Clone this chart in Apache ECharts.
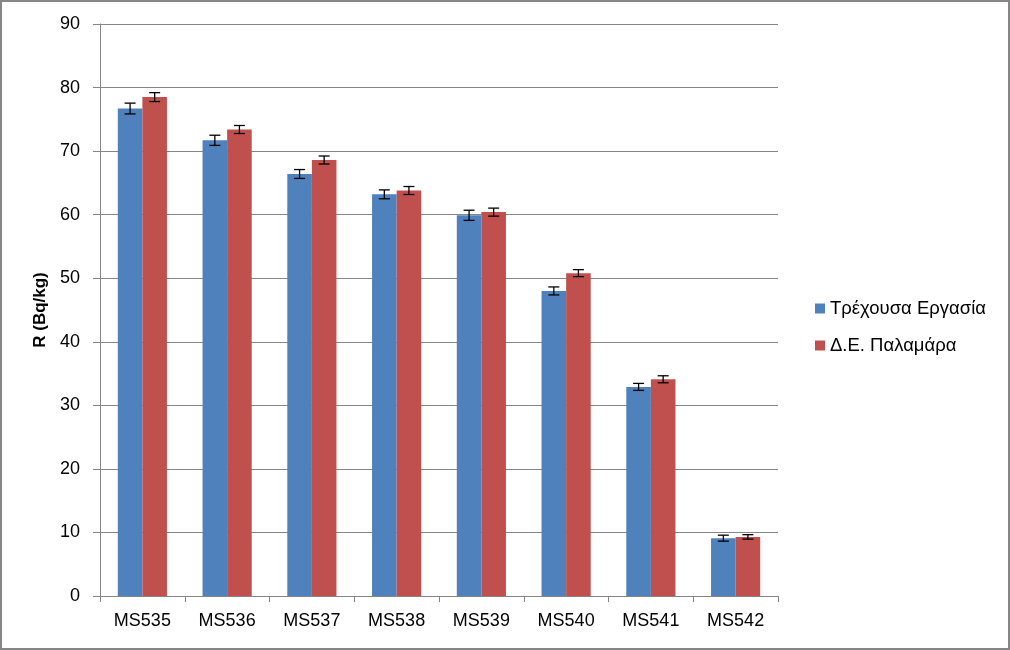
<!DOCTYPE html>
<html>
<head>
<meta charset="utf-8">
<script src="https://cdn.jsdelivr.net/npm/echarts@6/dist/echarts.min.js"></script>
<style>
html,body{margin:0;padding:0;background:#fff;}
#wrap{width:1010px;height:650px;box-sizing:border-box;border:2px solid #868686;position:relative;}
#chart{width:1006px;height:646px;}
</style>
</head>
<body>
<div id="wrap"><div id="chart"></div></div>
<script>
const categories = ['MS535','MS536','MS537','MS538','MS539','MS540','MS541','MS542'];
const seriesNames = ['Τρέχουσα Εργασία','Δ.Ε. Παλαμάρα'];
const currentValues = [76.7, 71.7, 66.4, 63.2, 59.9, 48.0, 32.9, 9.1];
const currentErrors = [0.85, 0.8, 0.7, 0.7, 0.8, 0.63, 0.55, 0.47];
const palamaraValues = [78.5, 73.4, 68.6, 63.8, 60.4, 50.8, 34.1, 9.3];
const palamaraErrors = [0.7, 0.63, 0.63, 0.63, 0.63, 0.55, 0.55, 0.35];
const yTicks = [0,10,20,30,40,50,60,70,80,90];

const font = '"Liberation Sans", "Noto Sans", sans-serif';
const catGap = 0.42;

function errSeries(values, errors, sideSign) {
  return {
    type: 'custom',
    silent: true,
    z: 10,
    data: values.map((v, i) => [i, v, errors[i]]),
    renderItem: function (params, api) {
      const idx = api.value(0), v = api.value(1), e = api.value(2);
      const band = api.size([1, 0])[0];
      const barW = band * (1 - catGap) / 2;
      const c = api.coord([idx, v]);
      const x = c[0] + sideSign * barW / 2;
      const yTop = api.coord([idx, v + e])[1];
      const yBot = api.coord([idx, v - e])[1];
      const cap = 5.5;
      const style = { stroke: '#000', lineWidth: 1.3, fill: null };
      return {
        type: 'group',
        children: [
          { type: 'line', shape: { x1: x, y1: yTop, x2: x, y2: yBot }, style },
          { type: 'line', shape: { x1: x - cap, y1: yTop, x2: x + cap, y2: yTop }, style },
          { type: 'line', shape: { x1: x - cap, y1: yBot, x2: x + cap, y2: yBot }, style }
        ]
      };
    }
  };
}

const chart = echarts.init(document.getElementById('chart'));
chart.setOption({
  animation: false,
  backgroundColor: '#fff',
  textStyle: { fontFamily: font },
  grid: { left: 98, top: 22, width: 678, height: 572, containLabel: false },
  legend: {
    orient: 'vertical',
    left: 808,
    top: 292,
    itemWidth: 10,
    itemHeight: 10,
    itemGap: 18,
    icon: 'rect',
    textStyle: { fontSize: 18.5, color: '#000', fontFamily: font },
    data: seriesNames
  },
  xAxis: {
    type: 'category',
    data: categories,
    axisLine: { lineStyle: { color: '#868686', width: 1 } },
    axisTick: { show: true, length: 6, inside: false, lineStyle: { color: '#868686' }, alignWithLabel: false },
    axisLabel: { fontSize: 18, color: '#000', margin: 16, fontFamily: font },
    splitLine: { show: false }
  },
  yAxis: {
    type: 'value',
    min: 0, max: 90, interval: 10,
    name: 'R (Bq/kg)',
    nameLocation: 'middle',
    nameGap: 48,
    nameRotate: 90,
    nameTextStyle: { fontSize: 17, fontWeight: 'bold', color: '#000', fontFamily: font },
    axisLine: { show: true, lineStyle: { color: '#868686', width: 1 } },
    axisTick: { show: true, length: 7, lineStyle: { color: '#868686' } },
    axisLabel: { fontSize: 18, color: '#000', margin: 20, fontFamily: font,
      formatter: v => yTicks.includes(v) ? String(v) : '' },
    splitLine: { show: true, lineStyle: { color: '#868686', width: 1 } }
  },
  series: [
    { name: seriesNames[0], type: 'bar', data: currentValues, barGap: '0%', barCategoryGap: (catGap*100)+'%',
      itemStyle: { color: '#4F81BD' } },
    { name: seriesNames[1], type: 'bar', data: palamaraValues, barGap: '0%', barCategoryGap: (catGap*100)+'%',
      itemStyle: { color: '#C0504D' } },
    errSeries(currentValues, currentErrors, -1),
    errSeries(palamaraValues, palamaraErrors, 1)
  ]
});
</script>
</body>
</html>
